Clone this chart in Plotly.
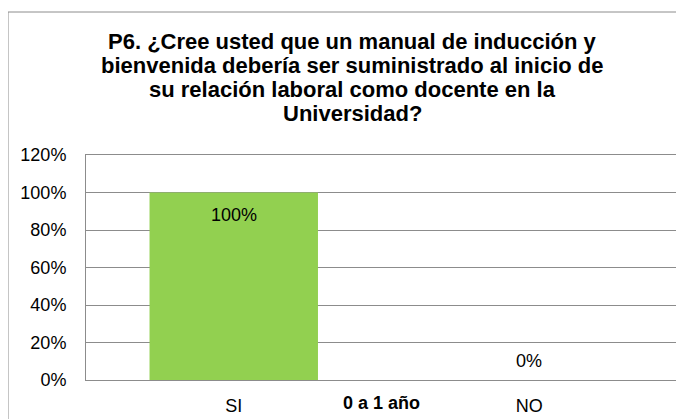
import plotly.graph_objects as go

# Datos del gráfico
categorias = ["SI", "NO"]
porcentajes = [1.00, 0.00]
etiquetas = ["100%", "0%"]
titulo_eje_x = "0 a 1 año"
titulo_lineas = [
    "P6. ¿Cree usted que un manual de inducción y",
    "bienvenida debería ser suministrado al inicio de",
    "su relación laboral como docente en la",
    "Universidad?",
]

# la página añade 8 px de margen al cuerpo: la figura se ajusta a ello
OFF = 8
W, H = 684 - OFF, 419 - OFF
L, R, T, B = 86 - OFF, 7, 155 - OFF, 39
pw, ph = W - L - R, H - T - B
fuente = "Liberation Sans, Arial, sans-serif"


def py(y_pantalla):
    """posición vertical de pantalla -> coordenada paper"""
    return (H - B - (y_pantalla - OFF)) / ph


def px(x_pantalla):
    return (x_pantalla - OFF - L) / pw


fig = go.Figure()

fig.add_trace(
    go.Bar(
        x=categorias,
        y=porcentajes,
        width=0.57,
        marker=dict(color="#92D050", line=dict(width=0)),
        hoverinfo="skip",
        showlegend=False,
    )
)

# etiquetas de datos
for cat, val, txt in zip(categorias, porcentajes, etiquetas):
    fig.add_annotation(
        x=cat, y=val, text=txt, showarrow=False,
        yanchor="middle", yshift=-22 if val > 0 else 19,
        font=dict(size=18, color="#000000", family=fuente),
    )

# titulo del eje x (en la línea de las etiquetas)
fig.add_annotation(
    x=0.5, xref="paper", y=py(403), yref="paper",
    text=f"<b>{titulo_eje_x}</b>", showarrow=False, yanchor="middle",
    font=dict(size=18, color="#000000", family=fuente),
)

# titulo del gráfico, una línea por anotación
for i, linea in enumerate(titulo_lineas):
    fig.add_annotation(
        x=px(352), xref="paper", xanchor="center",
        y=py(41 + 24.3 * i), yref="paper", yanchor="middle",
        text=f"<b>{linea}</b>", showarrow=False,
        font=dict(size=22, color="#000000", family=fuente),
    )

# marco exterior del gráfico
fig.add_shape(
    type="rect", xref="paper", yref="paper",
    x0=px(8), x1=px(700),
    y0=py(440), y1=py(12),
    line=dict(color="#8c8c8c", width=1), fillcolor="rgba(0,0,0,0)",
)

fig.update_layout(
    width=W, height=H,
    margin=dict(l=L, r=R, t=T, b=B),
    paper_bgcolor="white",
    plot_bgcolor="white",
    font=dict(family=fuente, color="#000000"),
)

fig.update_yaxes(
    range=[0, 1.2], dtick=0.2, tickformat=".0%",
    showgrid=True, gridcolor="#8c8c8c", gridwidth=1,
    showline=True, linecolor="#8c8c8c", linewidth=1,
    zeroline=False, ticks="", ticklabelstandoff=15, automargin=False,
    tickfont=dict(size=18, color="#000000"),
)
fig.update_xaxes(
    showline=True, linecolor="#8c8c8c", linewidth=1, mirror=True,
    showgrid=False, ticks="", ticklabelstandoff=9, automargin=False,
    tickfont=dict(size=18, color="#000000"),
)

fig.write_html("out.html")
